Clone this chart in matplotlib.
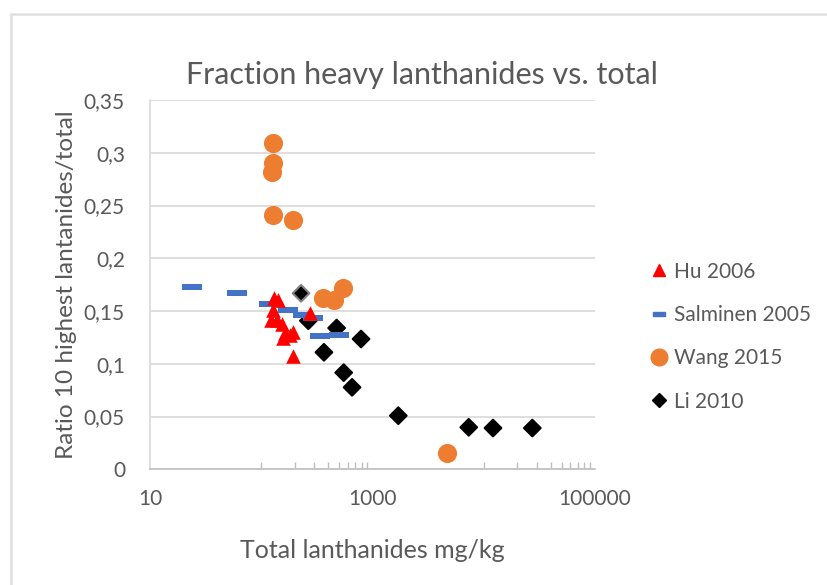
import matplotlib
matplotlib.use("Agg")
import matplotlib.pyplot as plt
from matplotlib.lines import Line2D
from matplotlib.patches import Rectangle

plt.rcParams['font.family'] = ['Lato', 'DejaVu Sans']

# Data
hu_x = [130, 142, 127, 122, 138, 153, 163, 181, 194, 274, 191, 158]
hu_y = [0.162, 0.160, 0.151, 0.1415, 0.1415, 0.138, 0.129, 0.127, 0.130, 0.148, 0.107, 0.124]

sal_x = [24, 61, 118, 173, 235, 294, 337, 503]
sal_y = [0.1725, 0.1668, 0.157, 0.1507, 0.146, 0.1437, 0.1266, 0.1276]

wang_x = [128, 128, 126, 128, 193, 356, 451, 547, 4677]
wang_y = [0.309, 0.2906, 0.282, 0.241, 0.236, 0.162, 0.160, 0.172, 0.0155]

li_x = [228, 265, 476, 789, 366, 551, 655, 1706, 7328, 12106, 27330]
li_y = [0.1668, 0.1408, 0.1339, 0.1235, 0.1109, 0.0916, 0.0777, 0.0508, 0.0398, 0.0391, 0.0391]
li_edge = ['#808080', 'black', 'black', 'black', 'black', 'black', 'black', 'black', 'black', 'black', 'black']

series_names = ["Hu 2006", "Salminen 2005", "Wang 2015", "Li 2010"]
y_ticks = [0, 0.05, 0.1, 0.15, 0.2, 0.25, 0.3, 0.35]
y_tick_labels = ["0", "0,05", "0,1", "0,15", "0,2", "0,25", "0,3", "0,35"]
x_major = [10, 1000, 100000]
x_major_labels = ["10", "1000", "100000"]
x_minor = [100, 200, 300, 400, 500, 600, 700, 800, 900,
           10000, 20000, 30000, 40000, 50000, 60000, 70000, 80000, 90000]

W, H = 827, 585
fig = plt.figure(figsize=(W / 100, H / 100), dpi=100)
ax = fig.add_axes([150 / W, 1 - 469.3 / H, (595 - 150) / W, (469.3 - 100) / H])

# outer chart border
fig.patches.append(Rectangle((11 / W, -0.05), 1.1, 1 - 14 / H + 0.05,
                             transform=fig.transFigure, fill=False,
                             edgecolor='#E0E0E0', linewidth=1.8))

grey = '#595959'
rect = [(-1.5, -0.5), (1.5, -0.5), (1.5, 0.5), (-1.5, 0.5), (-1.5, -0.5)]

ax.scatter(li_x, li_y, marker='D', s=72, c='black', edgecolors=li_edge,
           linewidths=1.5, zorder=3)
ax.scatter(wang_x, wang_y, marker='o', s=190, c='#ED7D31', linewidths=0, zorder=4)
ax.scatter(sal_x, sal_y, marker=rect, s=200, c='#4472C4', linewidths=0, zorder=5)
ax.scatter(hu_x, hu_y, marker='^', s=110, c='#FF0000', linewidths=0, zorder=6)

ax.set_xscale('log')
ax.set_xlim(10, 100000)
ax.set_ylim(0, 0.35)
ax.set_xticks(x_major)
ax.set_xticklabels(x_major_labels)
ax.set_xticks(x_minor, minor=True)
ax.set_xticklabels([], minor=True)
ax.set_yticks(y_ticks)
ax.set_yticklabels(y_tick_labels)

ax.yaxis.grid(True, color='#D9D9D9', linewidth=1.2)
ax.set_axisbelow(True)
for s in ['top', 'right']:
    ax.spines[s].set_visible(False)
ax.spines['left'].set_color('#D9D9D9')
ax.spines['bottom'].set_color('#BFBFBF')
ax.spines['left'].set_linewidth(1.2)
ax.spines['bottom'].set_linewidth(1.2)
ax.tick_params(axis='y', length=0, labelsize=15, labelcolor=grey, pad=18)
ax.tick_params(axis='x', which='major', length=0, labelsize=15, labelcolor=grey, pad=14)
ax.tick_params(axis='x', which='minor', direction='in', length=5, color='#BFBFBF', width=1)

fig.text(422 / W, 1 - 75 / H, "Fraction heavy lanthanides vs. total", fontsize=22,
         color=grey, ha='center', va='center')
ax.set_xlabel("Total lanthanides mg/kg", fontsize=18, color=grey, labelpad=22)
ax.set_ylabel("Ratio 10 highest lantanides/total", fontsize=17.5, color=grey, labelpad=5)

handles = [
    Line2D([], [], linestyle='none', marker='^', markersize=9, color='#FF0000'),
    Line2D([], [], linestyle='none', marker=rect, markersize=9, color='#4472C4'),
    Line2D([], [], linestyle='none', marker='o', markersize=12, color='#ED7D31'),
    Line2D([], [], linestyle='none', marker='D', markersize=7, color='black'),
]
leg = fig.legend(handles, series_names, loc='upper left',
                 bbox_to_anchor=(628 / W, 1 - 243 / H), frameon=False,
                 fontsize=15, labelspacing=1.12, handletextpad=0.1,
                 handlelength=1.2, labelcolor=grey)

fig.savefig("out.png", dpi=100)
